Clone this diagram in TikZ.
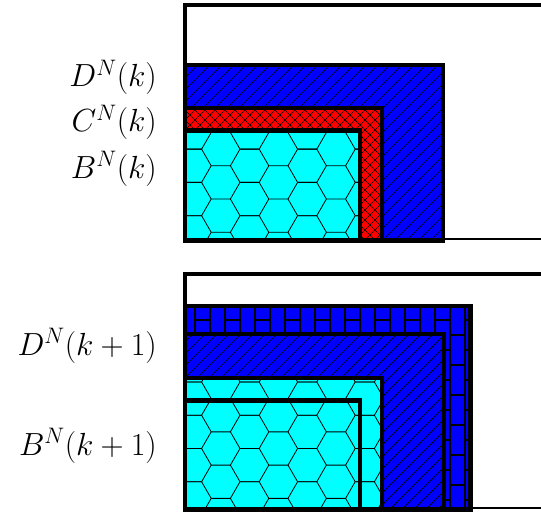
\RequirePackage{fix-cm}
\documentclass[tikz,border=0pt]{standalone}
\usepackage{amsmath}
\usepackage{amssymb}
\usepackage{tikz}
\usetikzlibrary{patterns}

\definecolor{aqua}{RGB}{0,255,255}

% hatch patterns for the regions
\pgfdeclarepatternformonly{slanted}{\pgfqpoint{-1pt}{-1pt}}{\pgfqpoint{13pt}{13pt}}{\pgfqpoint{12pt}{12pt}}{%
    \pgfsetlinewidth{0.7pt}
    \pgfpathmoveto{\pgfqpoint{-1pt}{-1pt}}
    \pgfpathlineto{\pgfqpoint{13pt}{13pt}}
    \pgfusepath{stroke}}
\pgfdeclarepatternformonly{diamonds}{\pgfqpoint{-1pt}{-1pt}}{\pgfqpoint{11pt}{11pt}}{\pgfqpoint{10pt}{10pt}}{%
    \pgfsetlinewidth{0.7pt}
    \pgfpathmoveto{\pgfqpoint{-1pt}{-1pt}}
    \pgfpathlineto{\pgfqpoint{11pt}{11pt}}
    \pgfpathmoveto{\pgfqpoint{-1pt}{11pt}}
    \pgfpathlineto{\pgfqpoint{11pt}{-1pt}}
    \pgfusepath{stroke}}
\pgfdeclarepatternformonly{honeycomb}{\pgfqpoint{-1pt}{-1pt}}{\pgfqpoint{58.6pt}{34.3pt}}{\pgfqpoint{57.6pt}{33.26pt}}{%
    \pgfsetlinewidth{0.8pt}
    \pgfpathmoveto{\pgfqpoint{0pt}{16.63pt}}
    \pgfpathlineto{\pgfqpoint{9.6pt}{0pt}}
    \pgfpathlineto{\pgfqpoint{28.8pt}{0pt}}
    \pgfpathlineto{\pgfqpoint{38.4pt}{16.63pt}}
    \pgfpathlineto{\pgfqpoint{28.8pt}{33.26pt}}
    \pgfpathlineto{\pgfqpoint{9.6pt}{33.26pt}}
    \pgfpathclose
    \pgfpathmoveto{\pgfqpoint{38.4pt}{16.63pt}}
    \pgfpathlineto{\pgfqpoint{57.6pt}{16.63pt}}
    \pgfusepath{stroke}}
\pgfdeclarepatternformonly{pillars}{\pgfqpoint{-1pt}{-1pt}}{\pgfqpoint{31pt}{31pt}}{\pgfqpoint{30pt}{30pt}}{%
    \pgfsetlinewidth{1.5pt}
    \pgfpathmoveto{\pgfqpoint{0pt}{-1pt}}
    \pgfpathlineto{\pgfqpoint{0pt}{31pt}}
    \pgfpathmoveto{\pgfqpoint{15pt}{-1pt}}
    \pgfpathlineto{\pgfqpoint{15pt}{31pt}}
    \pgfpathmoveto{\pgfqpoint{0pt}{0pt}}
    \pgfpathlineto{\pgfqpoint{15pt}{0pt}}
    \pgfpathmoveto{\pgfqpoint{15pt}{15pt}}
    \pgfpathlineto{\pgfqpoint{30pt}{15pt}}
    \pgfusepath{stroke}}

\begin{document}
\begin{tikzpicture}[
    x=1pt, y=-1pt,
    frame/.style={
        draw=black,
        line width=4.2pt
    },
    rim/.style={
        draw=black,
        line width=2pt
    },
    zone/.style={
        draw=black,
        line width=4.2pt,
        preaction={fill=#1}
    },
    lbl/.style={
        anchor=base east,
        inner sep=0pt,
        font=\fontsize{32}{38}\selectfont
    }
]
\useasboundingbox (0,0) rectangle (541,515);

% --- step k ---
\draw[frame] (548,4.7) -| (184.7,240.5);
\draw[rim] (184.7,239.4) -- (548,239.4);
\draw[zone=blue, pattern=slanted] (184.7,64.7) rectangle (443.3,240.5);
\draw[zone=red, pattern=diamonds] (184.7,108.3) rectangle (381.7,240.5);
\draw[zone=aqua, pattern=honeycomb] (184.7,130.5) rectangle (359.8,240.5);

\node[lbl] (dk) at (157,86.7) {$D^N(k)$};
\node[lbl] (ck) at (157,131.7) {$C^N(k)$};
\node[lbl] (bk) at (157,178) {$B^N(k)$};

% --- step k+1 ---
\draw[frame] (548,273.8) -| (184.7,509.5);
\draw[rim] (184.7,508.4) -- (548,508.4);
\draw[zone=blue, pattern=pillars] (184.7,306.2) rectangle (470.5,509.5);
\draw[zone=blue, pattern=slanted] (184.7,333.8) rectangle (443.8,509.5);
\draw[zone=aqua, pattern=honeycomb] (184.7,378.2) rectangle (382,509.5);
\draw[zone=aqua, pattern=honeycomb] (184.7,400.5) rectangle (360.3,509.5);

\node[lbl] (dk1) at (157,355) {$D^N(k+1)$};
\node[lbl] (bk1) at (157,455) {$B^N(k+1)$};

\end{tikzpicture}
\end{document}
